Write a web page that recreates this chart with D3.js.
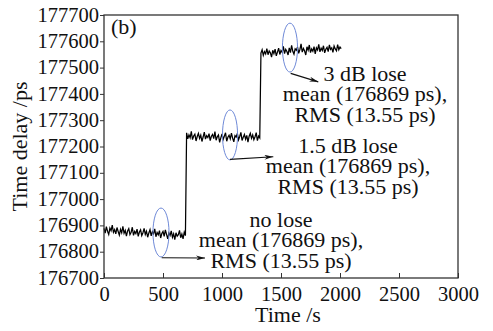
<!DOCTYPE html>
<html><head><meta charset="utf-8">
<script src="https://cdn.jsdelivr.net/npm/d3@7"></script>
</head><body style="margin:0;background:#fff">
<svg id="c" width="493" height="331"></svg>
<script>
// ---- data ----
const segmentStarts = [0, 700, 1330];   // s
const sampleStep = 10;                   // s between samples
const seg1 = [176889,176871,176895,176878,176866,176890,176880,176901,176874,176884,
176868,176892,176877,176863,176885,176872,176896,176870,176881,176859,
176879,176888,176865,176874,176893,176862,176877,176869,176886,176858,
176875,176883,176861,176872,176889,176866,176878,176855,176871,176884,
176860,176876,176868,176887,176857,176873,176864,176880,176852,176869,
176877,176858,176883,176866,176849,176871,176862,176879,176855,176868,
176846,176872,176859,176865,176881,176853,176867,176849,176874,176861];
const seg2 = [177252,177229,177244,177233,177258,177226,177240,177247,177221,177238,
177250,177231,177243,177219,177236,177255,177228,177241,177234,177249,
177222,177239,177246,177230,177257,177224,177237,177244,177216,177233,
177248,177227,177240,177252,177220,177235,177243,177229,177251,177232,
177218,177241,177236,177249,177225,177238,177254,177223,177235,177246,
177228,177242,177217,177239,177250,177231,177244,177226,177237,177253,
177222,177240,177233];
const seg3 = [177555,177568,177547,177561,177552,177572,177549,177563,177556,177540,
177566,177553,177570,177545,177559,177574,177550,177565,177558,177581,
177553,177569,177561,177548,177575,177557,177585,177562,177551,177571,
177566,177578,177554,177568,177590,177559,177573,177563,177548,177579,
177566,177586,177557,177571,177562,177580,177552,177575,177567,177588,
177560,177574,177565,177583,177556,177570,177577,177561,177586,177569,
177575,177558,177582,177571,177564,177587,177568,177578,177572];
const xTicks = [0,500,1000,1500,2000,2500,3000];
const yTicks = [176700,176800,176900,177000,177100,177200,177300,177400,177500,177600,177700];
const xTitle = "Time /s";
const yTitle = "Time delay /ps";
const panelLabel = "(b)";
const ellipses = [
  {t:483,  v:176873, rt:68, rv:93},
  {t:1068, v:177244, rt:64, rv:95},
  {t:1576, v:177576, rt:64, rv:93}
];
const arrows = [
  {t0:489,  v0:176777, t1:856,  v1:176776},
  {t0:1068, v0:177151, t1:1435, v1:177161},
  {t0:1582, v0:177478, t1:1816, v1:177446}
];
const notes = [
  {t:1500, v:176895, lines:["no lose","mean (176869 ps),","RMS (13.55 ps)"]},
  {t:2068, v:177176, lines:["1.5 dB lose","mean (176869 ps),","RMS (13.55 ps)"]},
  {t:2212, v:177450, lines:["3 dB lose","mean (176869 ps),","RMS (13.55 ps)"]}
];

// ---- layout ----
const L=104, R=458, T=15, B=278;
const FONT = "'Liberation Serif'";
const svg = d3.select("#c");
const x = d3.scaleLinear().domain([0,3000]).range([L,R]);
const y = d3.scaleLinear().domain([176700,177700]).range([B,T]);

const series = [];
[seg1,seg2,seg3].forEach((s,k)=>s.forEach((v,i)=>series.push({t:segmentStarts[k]+i*sampleStep,v})));

// trace
svg.append("path").datum(series)
  .attr("fill","none").attr("stroke","#000").attr("stroke-width",1.25)
  .attr("d", d3.line().x(d=>x(d.t)).y(d=>y(d.v)));

// axes
const gx = svg.append("g").attr("transform",`translate(0,${B})`)
  .call(d3.axisBottom(x).tickValues(xTicks).tickFormat(d3.format("d")).tickSizeInner(-5).tickSizeOuter(0).tickPadding(8));
const gy = svg.append("g").attr("transform",`translate(${L},0)`)
  .call(d3.axisLeft(y).tickValues(yTicks).tickFormat(d3.format("d")).tickSizeInner(4).tickSizeOuter(0).tickPadding(1));
[gx,gy].forEach(g=>{
  g.attr("font-family",null).attr("font-size",null);
  g.select(".domain").remove();
  g.selectAll(".tick line").attr("stroke","#333").attr("stroke-width",1);
  g.selectAll(".tick text").style("font-family",FONT).style("font-size","20.5px").style("fill","#111");
});
gy.selectAll(".tick text").attr("dy","0.3em");

// frame
svg.append("rect").attr("x",L).attr("y",T).attr("width",R-L).attr("height",B-T)
  .attr("fill","none").attr("stroke","#333").attr("stroke-width",1.3);

// ellipses
svg.selectAll("ellipse.e").data(ellipses).join("ellipse")
  .attr("cx",d=>x(d.t)).attr("cy",d=>y(d.v))
  .attr("rx",d=>x(d.t+d.rt)-x(d.t)).attr("ry",d=>y(d.v-d.rv)-y(d.v))
  .attr("fill","none").attr("stroke","#6f8ad8").attr("stroke-width",1);

// arrows
svg.append("defs").append("marker").attr("id","ah")
  .attr("viewBox","0 0 10 10").attr("refX",10).attr("refY",5)
  .attr("markerWidth",9).attr("markerHeight",5).attr("markerUnits","userSpaceOnUse")
  .attr("orient","auto").attr("preserveAspectRatio","none")
  .append("path").attr("d","M0,0 L10,5 L0,10 L3,5 Z").attr("fill","#111");
svg.selectAll("line.arr").data(arrows).join("line")
  .attr("x1",d=>x(d.t0)).attr("y1",d=>y(d.v0)).attr("x2",d=>x(d.t1)).attr("y2",d=>y(d.v1))
  .attr("stroke","#111").attr("stroke-width",1.2).attr("marker-end","url(#ah)");

// notes
notes.forEach(n=>{
  n.lines.forEach((s,i)=>svg.append("text").attr("text-anchor","middle")
    .style("font-family",FONT).style("font-size","22px").style("fill","#111")
    .attr("x",x(n.t)).attr("y",y(n.v)+i*20.5).text(s));
});

// titles
const title = (sel)=>sel.style("font-family",FONT).style("font-size","22px").style("fill","#111");
svg.append("text").attr("x",288).attr("y",322).attr("text-anchor","middle").call(title).text(xTitle);
svg.append("text").attr("transform",`translate(27,${(T+B)/2}) rotate(-90)`).attr("text-anchor","middle").call(title).text(yTitle);
svg.append("text").attr("x",111).attr("y",34).call(title).text(panelLabel);
</script>
</body></html>
